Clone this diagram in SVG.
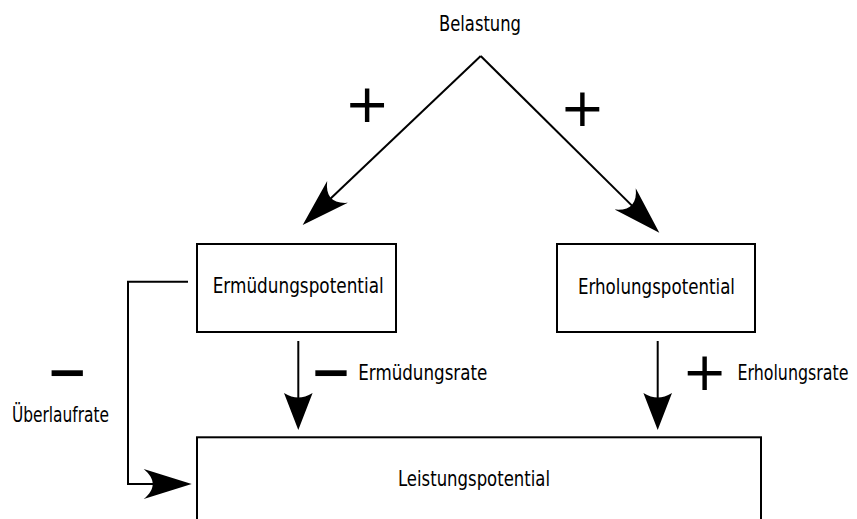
<svg xmlns="http://www.w3.org/2000/svg" width="857" height="519" viewBox="0 0 857 519">
<style>
.bg{fill:#fff}
.box{fill:#fff;stroke:#000;stroke-width:2}
.lbl{font-family:"DejaVu Sans Condensed","DejaVu Sans",sans-serif;font-size:20.5px;fill:#000}
.sym{font-family:"DejaVu Sans",sans-serif;font-size:54px;fill:#000;text-anchor:middle}
.neg{font-family:"DejaVu Sans",sans-serif;font-size:50px;font-weight:bold;fill:#000;text-anchor:middle}
.con{fill:none;stroke:#000;stroke-width:2}
</style>
<defs>
<marker id="ahL" markerUnits="userSpaceOnUse" orient="auto" refX="0" refY="0" markerWidth="60" markerHeight="40" overflow="visible">
<path d="M20,0 L-28,-15 C-16,-5 -16,5 -28,15 Z" fill="#000"/>
</marker>
<marker id="ahS" markerUnits="userSpaceOnUse" orient="auto" refX="0" refY="0" markerWidth="60" markerHeight="40" overflow="visible">
<path d="M20,0 L-17,-14.3 C-11,-4 -11,4 -17,14.3 Z" fill="#000"/>
</marker>
</defs>
<rect class="bg" x="0" y="0" width="857" height="519"/>
<g id="connectors">
<path class="con" d="M480.7,56 L317.2,211.2" marker-end="url(#ahL)"/>
<path class="con" d="M480.7,56 L645.1,218.6" marker-end="url(#ahL)"/>
<path class="con" d="M298.3,341 V410" marker-end="url(#ahS)"/>
<path class="con" d="M657.7,341 V410" marker-end="url(#ahS)"/>
<path class="con" d="M188,281.7 H128 V484 H171.7" marker-end="url(#ahL)"/>
</g>
<g id="belastung">
<text class="lbl" x="439" y="31" textLength="82" lengthAdjust="spacingAndGlyphs">Belastung</text>
</g>
<g id="ermuedungspotential">
<rect class="box" x="197" y="244" width="199" height="88"/>
<text class="lbl" x="212.7" y="293.3" textLength="171" lengthAdjust="spacingAndGlyphs">Ermüdungspotential</text>
</g>
<g id="erholungspotential">
<rect class="box" x="557" y="244" width="198" height="88"/>
<text class="lbl" x="578" y="293.8" textLength="157" lengthAdjust="spacingAndGlyphs">Erholungspotential</text>
</g>
<g id="leistungspotential">
<rect class="box" x="197" y="437.3" width="564" height="100"/>
<text class="lbl" x="398" y="485.7" textLength="152" lengthAdjust="spacingAndGlyphs">Leistungspotential</text>
</g>
<g id="labels">
<text class="sym" x="367" y="121.9">+</text>
<text class="sym" x="582.3" y="125.9">+</text>
<text class="sym" x="704.7" y="390.2">+</text>
<text class="neg" x="67.5" y="388.6">−</text>
<text class="neg" x="331.3" y="388.6">−</text>
<text class="lbl" x="12" y="421.7" textLength="97" lengthAdjust="spacingAndGlyphs">Überlaufrate</text>
<text class="lbl" x="358.3" y="380" textLength="129" lengthAdjust="spacingAndGlyphs">Ermüdungsrate</text>
<text class="lbl" transform="translate(737.5,380) scale(1,1.17)" x="0" y="0" style="font-size:17.6px" textLength="111" lengthAdjust="spacingAndGlyphs">Erholungsrate</text>
</g>
</svg>
